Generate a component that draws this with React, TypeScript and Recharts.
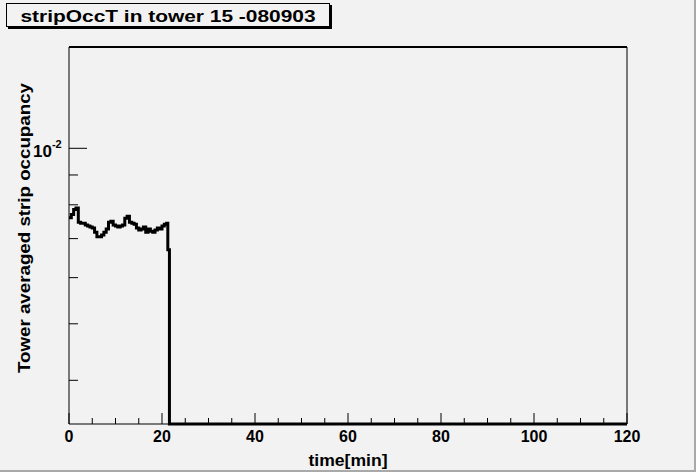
import React from "react";
import { LineChart, Line, XAxis, YAxis } from "recharts";

const chartTitle = "stripOccT in tower 15 -080903";
const xTitle = "time[min]";
const yTitle = "Tower averaged strip occupancy";

// bin start times [min]
const timeMin = [
  0, 0.5, 1, 1.5, 2, 2.5, 3, 3.5, 4, 4.5, 5, 5.5, 6, 6.5, 7, 7.5, 8, 8.5, 9, 9.5,
  10, 10.5, 11, 11.5, 12, 12.5, 13, 13.5, 14, 14.5, 15, 15.5, 16, 16.5, 17, 17.5,
  18, 18.5, 19, 19.5, 20, 20.5, 21, 21.25, 21.6, 120,
];

// averaged strip occupancy per bin (0 = no data)
const occupancy = [
  0.0076, 0.0077, 0.00785, 0.0079, 0.00747, 0.00744, 0.00744, 0.00739, 0.00736, 0.00733,
  0.0073, 0.00718, 0.00705, 0.00705, 0.0071, 0.00718, 0.00727, 0.00747, 0.0075, 0.00739,
  0.00736, 0.00733, 0.00736, 0.00739, 0.00759, 0.00765, 0.00747, 0.00744, 0.00741, 0.0073,
  0.00724, 0.00727, 0.00733, 0.00718, 0.00727, 0.00721, 0.00718, 0.00724, 0.0073, 0.00727,
  0.00736, 0.00741, 0.00744, 0.0067, 0, 0,
];

const xTicks = [0, 5, 10, 15, 20, 25, 30, 35, 40, 45, 50, 55, 60, 65, 70, 75, 80, 85, 90, 95, 100, 105, 110, 115, 120];
const yTicks = [0.004, 0.005, 0.006, 0.007, 0.008, 0.009, 0.01];

const Y_MIN = 0.003366;
const Y_MAX = 0.01492;

const FONT = "'Liberation Sans', Arial, Helvetica, sans-serif";
const BG = "#f2f2f2";

// empty bins sit on the bottom of the frame, like ROOT does on a log axis
const rows = timeMin.map((t, i) => ({ t, occ: occupancy[i] > 0 ? occupancy[i] : Y_MIN }));

function XTick(props: any) {
  const { x, y, payload } = props;
  const major = payload.value % 20 === 0;
  return (
    <g>
      <line x1={x} x2={x} y1={y} y2={y - (major ? 11 : 6)} stroke="#000" />
      {major && (
        <text x={x} y={y + 18} textAnchor="middle" fontSize={16} fontWeight="bold" fontFamily={FONT} fill="#000">
          {payload.value}
        </text>
      )}
    </g>
  );
}

function YTick(props: any) {
  const { x, y, payload } = props;
  const major = Math.abs(payload.value - 0.01) < 1e-9;
  return (
    <g>
      <line x1={x} x2={x + (major ? 18 : 9)} y1={y} y2={y} stroke="#000" />
      {major && (
        <text x={x - 36} y={y + 9} fontSize={17} fontWeight="bold" fontFamily={FONT} fill="#000">
          10
          <tspan dy={-9} fontSize={11}>-2</tspan>
        </text>
      )}
    </g>
  );
}

export default function App() {
  return (
    <div style={{ position: "absolute", left: 0, top: 0, width: 696, height: 472, background: BG }}>
      <LineChart width={696} height={472} data={rows} margin={{ top: 46, right: 68, bottom: 47, left: 68 }}>
        <XAxis
          xAxisId="b"
          dataKey="t"
          type="number"
          domain={[0, 120]}
          ticks={xTicks}
          interval={0}
          height={1}
          tickSize={0}
          tickMargin={0}
          tickLine={false}
          axisLine={{ stroke: "#000" }}
          tick={<XTick />}
        />
        <XAxis
          xAxisId="t"
          orientation="top"
          dataKey="t"
          type="number"
          domain={[0, 120]}
          height={1}
          tick={false}
          tickLine={false}
          axisLine={{ stroke: "#000", strokeWidth: 2 }}
        />
        <YAxis
          yAxisId="l"
          type="number"
          scale="log"
          domain={[Y_MIN, Y_MAX]}
          ticks={yTicks}
          interval={0}
          width={1}
          tickSize={0}
          tickMargin={0}
          tickLine={false}
          axisLine={{ stroke: "#000" }}
          tick={<YTick />}
        />
        <YAxis
          yAxisId="r"
          orientation="right"
          type="number"
          domain={[0, 1]}
          width={1}
          tick={false}
          tickLine={false}
          axisLine={{ stroke: "#000" }}
        />
        <Line
          xAxisId="b"
          yAxisId="l"
          type="stepAfter"
          dataKey="occ"
          stroke="#000"
          strokeWidth={3}
          dot={false}
          activeDot={false}
          isAnimationActive={false}
        />
      </LineChart>
      <svg width={696} height={472} style={{ position: "absolute", left: 0, top: 0, pointerEvents: "none" }}>
        <rect x={8} y={5} width={324} height={24} fill="#000" />
        <rect x={6.5} y={3.5} width={323} height={23} fill={BG} stroke="#000" />
        <text x={168} y={22} textAnchor="middle" fontSize={16} fontWeight="bold" fontFamily={FONT} textLength={295} lengthAdjust="spacingAndGlyphs">
          {chartTitle}
        </text>
        <text x={348} y={466} textAnchor="middle" fontSize={16} fontWeight="bold" fontFamily={FONT} textLength={79} lengthAdjust="spacingAndGlyphs">
          {xTitle}
        </text>
        <text
          x={0}
          y={0}
          transform="translate(30,228) rotate(-90)"
          textAnchor="middle"
          fontSize={16}
          fontWeight="bold"
          fontFamily={FONT}
          textLength={290}
          lengthAdjust="spacingAndGlyphs"
        >
          {yTitle}
        </text>
        <rect x={694} y={0} width={2} height={472} fill="#a9a9a9" />
        <rect x={0} y={470} width={696} height={2} fill="#a9a9a9" />
      </svg>
    </div>
  );
}
